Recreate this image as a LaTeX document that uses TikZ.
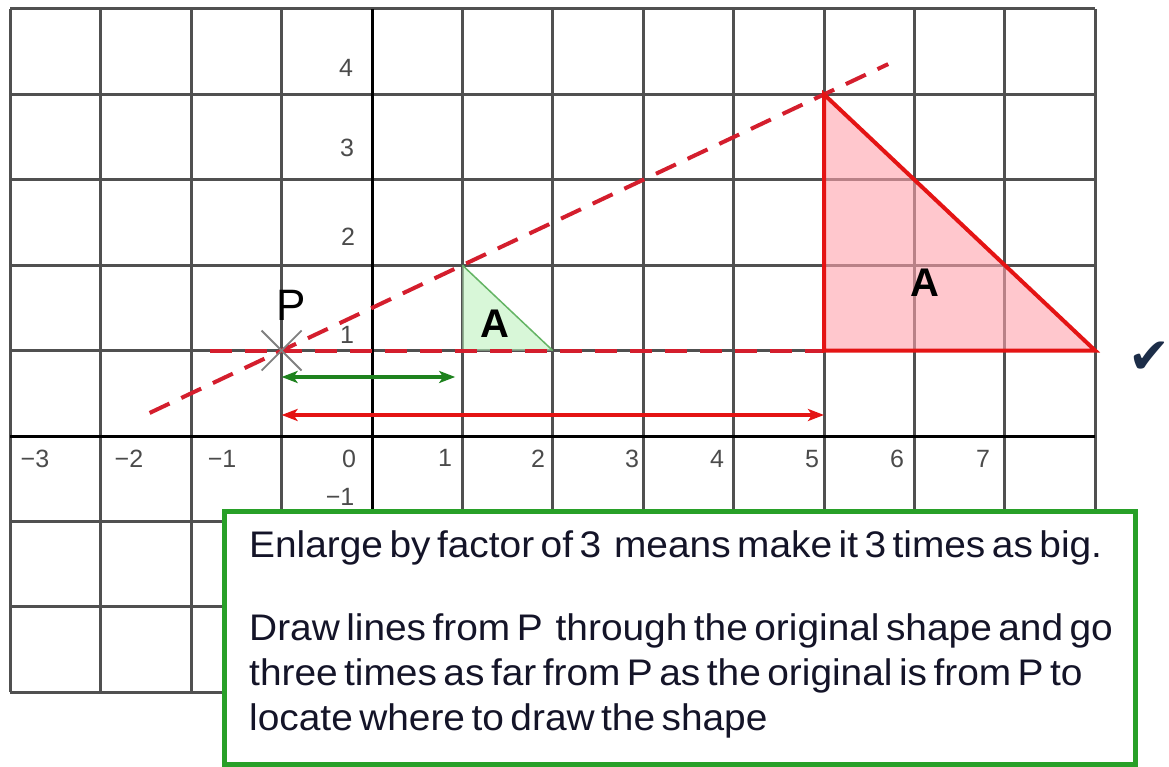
\documentclass[tikz,border=0pt]{standalone}
\usepackage{fontspec}
\setmainfont{Liberation Sans}
\newfontfamily\boxfont[FakeStretch=1.05,WordSpace=0.6]{Liberation Sans}
\newfontfamily\symfont{DejaVu Sans}
\usetikzlibrary{arrows.meta}
\definecolor{gridgray}{RGB}{80,80,80}
\definecolor{labelgray}{RGB}{75,75,75}
\definecolor{dashred}{RGB}{212,30,45}
\definecolor{edgered}{RGB}{228,20,20}
\definecolor{pinkfill}{RGB}{255,163,172}
\definecolor{greenfill}{RGB}{190,242,190}
\definecolor{hypgreen}{RGB}{100,180,100}
\definecolor{arrowgreen}{RGB}{30,130,30}
\definecolor{boxgreen}{RGB}{40,160,40}
\definecolor{textdark}{RGB}{20,20,40}
\definecolor{checkblue}{RGB}{28,45,72}
\begin{document}
\begin{tikzpicture}[x=1pt,y=-1pt,
  gridline/.style={draw=gridgray,line width=3pt},
  axisline/.style={draw=black,line width=3pt},
  axislabel/.style={font=\fontsize{25}{25}\selectfont,text=labelgray,inner sep=0pt},
  bigletter/.style={font=\fontsize{40}{40}\selectfont\bfseries,text=black,inner sep=0pt},
  dashline/.style={draw=dashred,line width=4pt,dash pattern=on 22pt off 13pt},
  redge/.style={draw=edgered,line width=4pt,line join=miter},
  dimarrow/.style={line width=4pt,{Stealth[length=16pt,width=12pt,inset=4pt]}-{Stealth[length=16pt,width=12pt,inset=4pt]}},
  textbox/.style={draw=boxgreen,line width=5pt,fill=white,inner sep=0pt},
  boxtext/.style={font=\boxfont\fontsize{37}{37}\selectfont,text=textdark,inner sep=0pt,anchor=base west}
]
\useasboundingbox (0,0) rectangle (1169,767);
\fill[white] (0,0) rectangle (1169,767);
\begin{scope}[shift={(372,436)},x=90.4pt,y=85.4pt]
  \coordinate (P) at (-1,1);
  \coordinate (a1) at (1,2);
  \coordinate (b1) at (1,1);
  \coordinate (c1) at (2,1);
  \coordinate (a3) at (5,4);
  \coordinate (b3) at (5,1);
  \coordinate (c3) at (8,1);
  \coordinate (dstart) at (-2.46,0.27);
  \coordinate (dend) at (5.71,4.355);
  \coordinate (hstart) at (-1.79,1);
  \coordinate (g1) at (-1,0.691);
  \coordinate (g2) at (0.92,0.691);
  \coordinate (r1) at (-1,0.246);
  \coordinate (r2) at (5,0.246);
  % grid
  \foreach \i in {-4,...,8} \draw[gridline] (\i,-3) -- (\i,5);
  \foreach \j in {-3,...,5} \draw[gridline] (-4,\j) -- (8,\j);
  \draw[axisline] (-4,0) -- (8,0);
  \draw[axisline] (0,-3) -- (0,5);
  % fills
  \fill[pinkfill,fill opacity=0.6] (a3) -- (b3) -- (c3) -- cycle;
  \fill[greenfill,fill opacity=0.6] (a1) -- (b1) -- (c1) -- cycle;
  \draw[hypgreen,line width=1.5pt] (a1) -- (c1);
  % dashed rays
  \draw[dashline] (dstart) -- (dend);
  \draw[dashline] (hstart) -- (b3);
  % enlarged triangle
  \draw[redge] (a3) -- (b3) -- (c3) -- cycle;
  % arrows
  \draw[dimarrow,arrowgreen] (g1) -- (g2);
  \draw[dimarrow,edgered] (r1) -- (r2);
  % centre cross
  \draw[gray,line width=1.8pt] ([xshift=-20pt,yshift=20pt]P) -- ([xshift=20pt,yshift=-20pt]P);
  \draw[gray,line width=1.8pt] ([xshift=20pt,yshift=20pt]P) -- ([xshift=-20pt,yshift=-20pt]P);
\end{scope}
% axis labels
\node[axislabel] (y4) at (346,68) {4};
\node[axislabel] (y3) at (347,148) {3};
\node[axislabel] (y2) at (348,237) {2};
\node[axislabel] (y1) at (347,335) {1};
\node[axislabel] (ym1) at (340,497) {−1};
\node[axislabel] (xm3) at (35,459) {−3};
\node[axislabel] (xm2) at (129,459) {−2};
\node[axislabel] (xm1) at (222,459) {−1};
\node[axislabel] (x0) at (349,459) {0};
\node[axislabel] (x1) at (445,458) {1};
\node[axislabel] (x2) at (538,459) {2};
\node[axislabel] (x3) at (632,459) {3};
\node[axislabel] (x4) at (717,459) {4};
\node[axislabel] (x5) at (812,459) {5};
\node[axislabel] (x6) at (897,459) {6};
\node[axislabel] (x7) at (983,459) {7};
% letters
\node[font=\fontsize{44}{44}\selectfont,inner sep=0pt] (plabel) at (291,305) {P};
\node[bigletter] (asmall) at (495,324) {A};
\node[bigletter] (abig) at (925,283) {A};
% text box
\node[textbox,minimum width=911pt,minimum height=252.5pt] (box) at (680,637.75) {};
\node[boxtext] (t1) at (249,557) {Enlarge by factor of 3~ means make it 3 times as big.};
\node[boxtext] (t2) at (249,640) {Draw lines from P~ through the original shape and go};
\node[boxtext] (t3) at (249,685) {three times as far from P as the original is from P to};
\node[boxtext] (t4) at (249,730) {locate where to draw the shape};
% check mark
\node[font=\symfont\fontsize{50}{50}\selectfont,text=checkblue,inner sep=0pt] (check) at (1149,358) {✔};
\end{tikzpicture}
\end{document}
